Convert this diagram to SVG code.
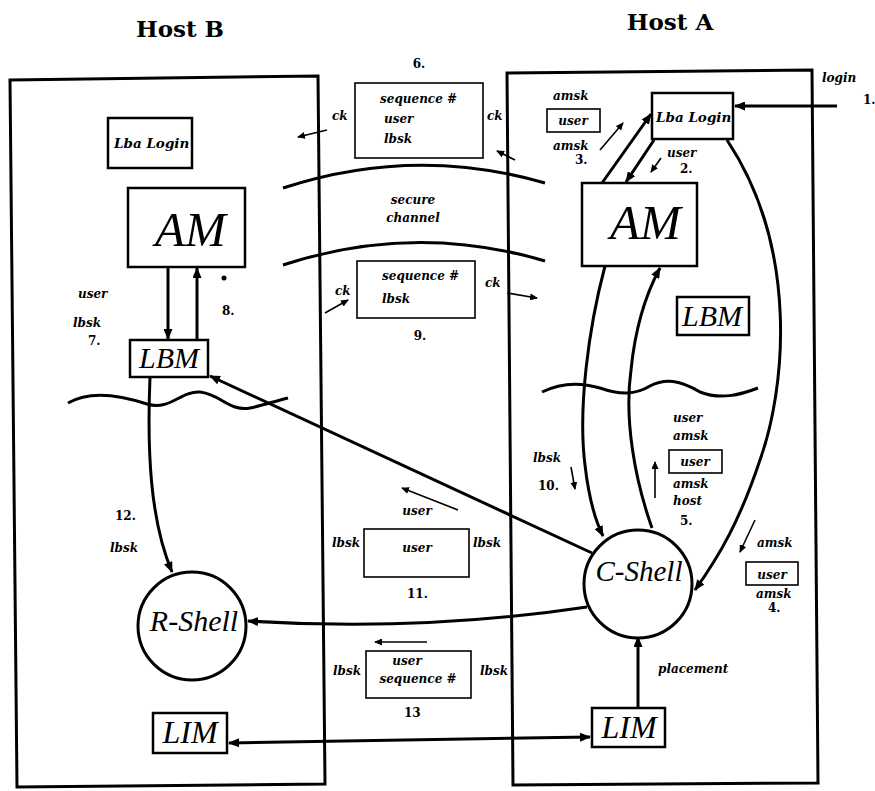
<svg xmlns="http://www.w3.org/2000/svg" width="875" height="791" viewBox="0 0 875 791">
<defs>
<marker id="ah" markerUnits="userSpaceOnUse" markerWidth="11" markerHeight="9" refX="10" refY="4.5" orient="auto-start-reverse"><path d="M0,0 L11,4.5 L0,9 z" fill="#000"/></marker>
<marker id="sa" markerUnits="userSpaceOnUse" markerWidth="8" markerHeight="7" refX="7" refY="3.5" orient="auto"><path d="M0,0 L8,3.5 L0,7 z" fill="#000"/></marker>
</defs>
<style>
.host{fill:none;stroke:#000;stroke-width:3}
.box{fill:#fff;stroke:#000;stroke-width:2.5}
.mbox{fill:#fff;stroke:#000;stroke-width:1.6}
.circ{fill:#fff;stroke:#000;stroke-width:3}
.con{fill:none;stroke:#000;stroke-width:3}
.sm{fill:none;stroke:#000;stroke-width:1.6;marker-end:url(#sa)}
.wave{fill:none;stroke:#000;stroke-width:3}
.title{font-family:"DejaVu Serif",serif;font-weight:bold;font-size:23px;text-anchor:middle}
.lbl{font-family:"DejaVu Serif",serif;font-weight:bold;font-style:italic;font-size:12px}
.num{font-family:"DejaVu Serif",serif;font-weight:bold;font-size:12px}
.lba{font-family:"DejaVu Serif",serif;font-weight:bold;font-style:italic;font-size:13.5px}
.node{font-family:"Liberation Serif",serif;font-style:italic}
.mid{text-anchor:middle}
</style>
<rect width="875" height="791" fill="#fff"/>
<text class="title" x="180" y="37">Host B</text>
<text class="title" x="670" y="30">Host A</text>
<g id="hostB"><path class="host" d="M10,80 L318,76 L325,784 L17,787 Z"/></g>
<g id="hostA"><path class="host" d="M507,73 L812,70 L818,783 L513,785 Z"/></g>
<g id="decor">
<path class="wave" d="M283,188 Q414,145 545,183"/>
<path class="wave" d="M283,265 Q414,222 545,261"/>
<path class="wave" d="M68,403 C90,390 120,395 147,404 C170,411 180,391 200,392 C220,394 230,412 250,408 C265,405 275,401 288,398"/>
<path class="wave" d="M542,392 C560,383 580,382 600,388 C620,395 635,395 650,386 C665,378 680,380 700,392 C720,400 740,395 758,388"/>
<text class="lbl mid" x="413" y="204">secure</text>
<text class="lbl mid" x="413" y="222">channel</text>
</g>
<g id="connectors">
<path class="con" d="M837,106 L735,106" marker-end="url(#ah)"/>
<path class="con" d="M602,183 L651,114" marker-end="url(#ah)"/>
<path class="con" d="M654,140 L626,182" marker-end="url(#ah)"/>
<path class="con" d="M727,140 C800,250 785,390 760,460 C740,520 720,555 695,590" marker-end="url(#ah)"/>
<path class="con" d="M605,266 C588,330 578,410 585,465 C589,500 595,520 603,536" marker-end="url(#ah)"/>
<path class="con" d="M652,528 C635,480 624,420 631,370 C636,320 648,290 660,268" marker-end="url(#ah)"/>
<path class="con" d="M168,267 L168,339" marker-end="url(#ah)"/>
<path class="con" d="M197,340 L197,268" marker-end="url(#ah)"/>
<path class="con" d="M592,553 L210,376" marker-end="url(#ah)"/>
<path class="con" d="M150,377 C147,450 150,520 172,572" marker-end="url(#ah)"/>
<path class="con" d="M587,607 Q420,632 248,621" marker-end="url(#ah)"/>
<path class="con" d="M638,708 L638,637" marker-end="url(#ah)"/>
<path class="con" d="M229,743 L590,737" marker-start="url(#ah)" marker-end="url(#ah)"/>
<path class="sm" d="M327,130 L298,137"/>
<path class="sm" d="M515,160 L497,151"/>
<path class="sm" d="M325,313 L348,300"/>
<path class="sm" d="M507,293 L537,298"/>
<path class="sm" d="M600,150 L623,123"/>
<path class="sm" d="M661,158 L651,172"/>
<path class="sm" d="M571,467 L575,489"/>
<path class="sm" d="M655,498 L655,462"/>
<path class="sm" d="M755,520 L740,552"/>
<path class="sm" d="M458,510 L402,488"/>
<path class="sm" d="M427,642 L375,642"/>
</g>
<g id="lbaLoginB"><rect class="box" x="108" y="118" width="84" height="50"/><text class="lba" x="114" y="148">Lba Login</text></g>
<g id="amB"><rect class="box" x="128" y="188" width="117" height="79"/><text class="node" x="155" y="246" font-size="49">AM</text></g>
<g id="lbmB"><rect class="box" x="130" y="340" width="78" height="37"/><text class="node" x="139" y="368" font-size="30">LBM</text></g>
<g id="rShell"><circle class="circ" cx="192" cy="626" r="54"/><text class="node mid" x="194" y="631" font-size="30">R-Shell</text></g>
<g id="limB"><rect class="box" x="153" y="713" width="74" height="40"/><text class="node mid" x="190" y="743" font-size="32">LIM</text></g>
<g id="lbaLoginA"><rect class="box" x="652" y="93" width="81" height="46"/><text class="lba" x="656" y="122">Lba Login</text></g>
<g id="amA"><rect class="box" x="582" y="183" width="115" height="83"/><text class="node" x="610" y="239" font-size="49">AM</text></g>
<g id="lbmA"><rect class="box" x="677" y="297" width="72" height="38"/><text class="node" x="682" y="326" font-size="30">LBM</text></g>
<g id="cShell"><circle class="circ" cx="638" cy="584" r="54"/><text class="node mid" x="639" y="581" font-size="29">C-Shell</text></g>
<g id="limA"><rect class="box" x="592" y="708" width="73" height="39"/><text class="node mid" x="629" y="738" font-size="32">LIM</text></g>
<g id="msg6"><rect class="mbox" x="355" y="83" width="128" height="75"/>
<text class="num mid" x="419" y="68">6.</text>
<text class="lbl" x="380" y="103">sequence #</text><text class="lbl" x="384" y="123">user</text><text class="lbl" x="384" y="143">lbsk</text>
<text class="lbl" x="332" y="120">ck</text><text class="lbl" x="487" y="120">ck</text></g>
<g id="msg9"><rect class="mbox" x="357" y="261" width="118" height="57"/>
<text class="lbl" x="382" y="280">sequence #</text><text class="lbl" x="382" y="303">lbsk</text>
<text class="num mid" x="420" y="340">9.</text>
<text class="lbl" x="335" y="295">ck</text><text class="lbl" x="485" y="287">ck</text></g>
<g id="msg11"><rect class="mbox" x="364" y="529" width="105" height="48"/>
<text class="lbl mid" x="417" y="515">user</text>
<text class="lbl mid" x="417" y="552">user</text>
<text class="lbl" x="332" y="547">lbsk</text><text class="lbl" x="473" y="547">lbsk</text>
<text class="num" x="407" y="598">11.</text></g>
<g id="msg13"><rect class="mbox" x="366" y="651" width="105" height="47"/>
<text class="lbl mid" x="407" y="665">user</text><text class="lbl mid" x="418" y="683">sequence #</text>
<text class="lbl" x="333" y="675">lbsk</text><text class="lbl" x="480" y="675">lbsk</text>
<text class="num" x="404" y="717">13</text></g>
<g id="labelsA">
<text class="lbl" x="822" y="82">login</text><text class="num" x="863" y="104">1.</text>
<text class="lbl" x="553" y="100">amsk</text><rect class="mbox" x="547" y="109" width="53" height="23"/><text class="lbl mid" x="573" y="125">user</text>
<text class="lbl" x="553" y="150">amsk</text><text class="num" x="575" y="164">3.</text>
<text class="lbl" x="667" y="157">user</text><text class="num" x="680" y="173">2.</text>
<text class="lbl" x="673" y="422">user</text><text class="lbl" x="673" y="440">amsk</text>
<rect class="mbox" x="669" y="450" width="53" height="23"/><text class="lbl mid" x="695" y="466">user</text>
<text class="lbl" x="673" y="488">amsk</text><text class="lbl" x="673" y="505">host</text><text class="num" x="680" y="525">5.</text>
<text class="lbl" x="533" y="462">lbsk</text><text class="num" x="538" y="490">10.</text>
<text class="lbl" x="757" y="547">amsk</text>
<rect class="mbox" x="746" y="562" width="52" height="23"/><text class="lbl mid" x="772" y="579">user</text>
<text class="lbl" x="756" y="598">amsk</text><text class="num" x="768" y="612">4.</text>
<text class="lbl" x="658" y="673">placement</text>
</g>
<g id="labelsB">
<text class="lbl" x="78" y="298">user</text><text class="lbl" x="73" y="327">lbsk</text><text class="num" x="88" y="345">7.</text>
<circle cx="224" cy="278" r="2.5" fill="#000"/>
<text class="num" x="222" y="315">8.</text>
<text class="num" x="115" y="520">12.</text><text class="lbl" x="110" y="552">lbsk</text>
</g>
</svg>
